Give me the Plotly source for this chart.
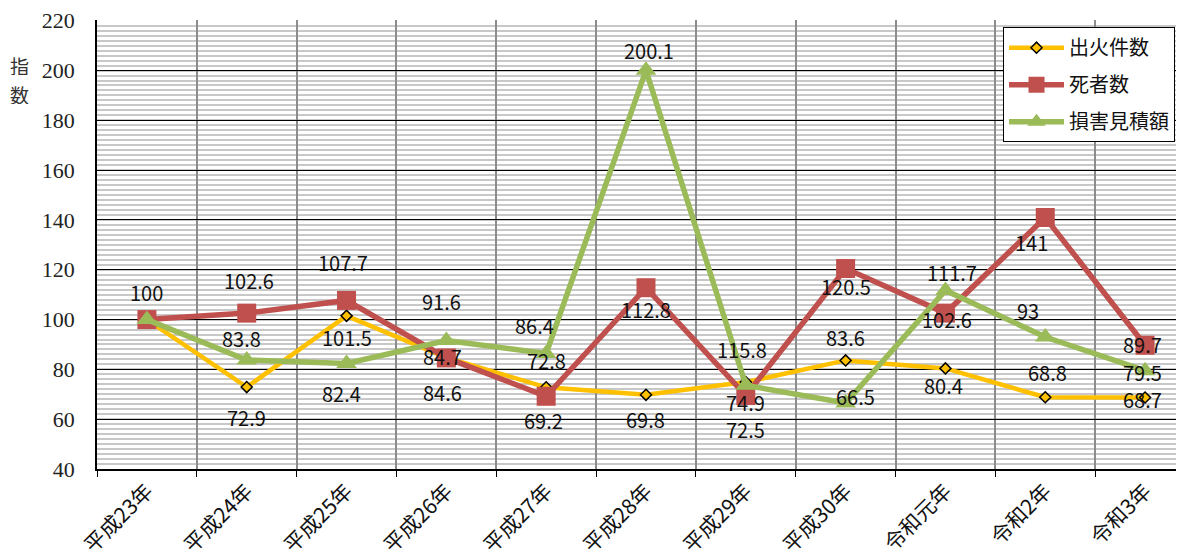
import plotly.graph_objects as go

categories = ["平成23年", "平成24年", "平成25年", "平成26年", "平成27年", "平成28年",
              "平成29年", "平成30年", "令和元年", "令和2年", "令和3年"]

fires = [100, 72.9, 101.5, 84.7, 72.8, 69.8, 74.9, 83.6, 80.4, 68.8, 68.7]
deaths = [100, 102.6, 107.7, 84.6, 69.2, 112.8, 69.5, 120.5, 102.6, 141, 89.7]
damage = [100, 83.8, 82.4, 91.6, 86.4, 200.1, 73.6, 66.5, 111.7, 93, 79.5]

fires_labels = ["100", "72.9", "101.5", "84.7", "72.8", "69.8", "74.9", "83.6", "80.4", "68.8", "68.7"]
deaths_labels = ["", "102.6", "107.7", "84.6", "69.2", "112.8", "72.5", "120.5", "102.6", "141", "89.7"]
damage_labels = ["", "83.8", "82.4", "91.6", "86.4", "200.1", "115.8", "66.5", "111.7", "93", "79.5"]

y_ticks = [40, 60, 80, 100, 120, 140, 160, 180, 200, 220]
y_title_chars = ["指", "数"]

# label offsets in pixels (dx right, dy down) relative to the point
fires_off = [(0, -28), (0, 30), (0, 21), (-4, -2), (0, -27), (0, 24), (0, 20), (0, -23), (-2, 17), (2, -25), (-3, 1)]
deaths_off = [(0, 0), (2, -33), (-4, -38), (-4, 34), (-3, 24), (0, 21), (0, 33), (0, 17), (2, 6), (-14, 25), (-3, -1)]
damage_off = [(0, 0), (-5, -22), (-5, 30), (-5, -40), (-12, -28), (3, -20), (-4, -36), (10, -7), (7, -18), (-17, -27), (-3, 1)]

YELLOW = "#FFC000"
RED = "#C0504D"
GREEN = "#9BBB59"
LABEL_FONT = dict(family="Noto Sans CJK JP", size=20, color="#111111")

fig = go.Figure()
fig.add_trace(go.Scatter(
    x=categories, y=fires, name="出火件数", mode="lines+markers", legendgroup="a",
    line=dict(color=YELLOW, width=4.5),
    marker=dict(symbol="diamond", size=8.5, color=YELLOW, line=dict(color="#000000", width=1.5)),
))
fig.add_trace(go.Scatter(
    x=categories, y=deaths, name="死者数", mode="lines+markers", legendgroup="b",
    line=dict(color=RED, width=5.5),
    marker=dict(symbol="square", size=19, color=RED),
))
fig.add_trace(go.Scatter(
    x=categories, y=damage, name="損害見積額", mode="lines+markers", legendgroup="c",
    line=dict(color=GREEN, width=5.5),
    marker=dict(symbol="triangle-up", size=18, color=GREEN),
))

annotations = []
for vals, labs, offs in ((fires, fires_labels, fires_off),
                         (deaths, deaths_labels, deaths_off),
                         (damage, damage_labels, damage_off)):
    for c, v, t, (dx, dy) in zip(categories, vals, labs, offs):
        if not t:
            continue
        annotations.append(dict(x=c, y=v, xref="x", yref="y", text=t, showarrow=False,
                                xshift=dx, yshift=-dy, font=LABEL_FONT, height=22))

for i, ch in enumerate(y_title_chars):
    annotations.append(dict(x=-0.071, y=0.900 - i * 0.064, xref="paper", yref="paper", text=ch,
                            showarrow=False, height=20,
                            font=dict(family="Noto Sans CJK JP", size=19, color="#333333"),
                            xanchor="center", yanchor="middle"))

# the page body adds an 8px offset, so the figure is sized/margined to compensate
fig.update_layout(
    width=1176, height=550,
    margin=dict(l=89, r=0, t=12, b=89),
    paper_bgcolor="white", plot_bgcolor="white",
    annotations=annotations,
    legend=dict(x=0.8335, y=0.984, xanchor="left", yanchor="top",
                bgcolor="white", bordercolor="#000000", borderwidth=1,
                font=dict(family="Noto Sans CJK JP", size=20, color="#111111"),
                itemwidth=55, tracegroupgap=8),
    xaxis=dict(type="category", range=[-0.5, 10.39], tickson="boundaries",
               showgrid=True, gridcolor="#8C8C8C", gridwidth=1.5,
               showline=True, linecolor="#000000", linewidth=1.5,
               ticks="outside", ticklen=6, tickcolor="#000000",
               tickangle=-45,
               tickfont=dict(family="Noto Sans CJK JP", size=21, color="#111111")),
    yaxis=dict(range=[40, 220.3], tickvals=y_ticks,
               showgrid=True, gridcolor="#000000", gridwidth=1,
               minor=dict(dtick=2, showgrid=True, gridcolor="#C8C8C8", gridwidth=2),
               showline=True, linecolor="#000000", linewidth=1.5,
               zeroline=False, ticks="", ticklabelstandoff=16,
               tickfont=dict(family="Liberation Serif, DejaVu Serif, serif", size=22, color="#222222")),
)

fig.write_html("out.html")
